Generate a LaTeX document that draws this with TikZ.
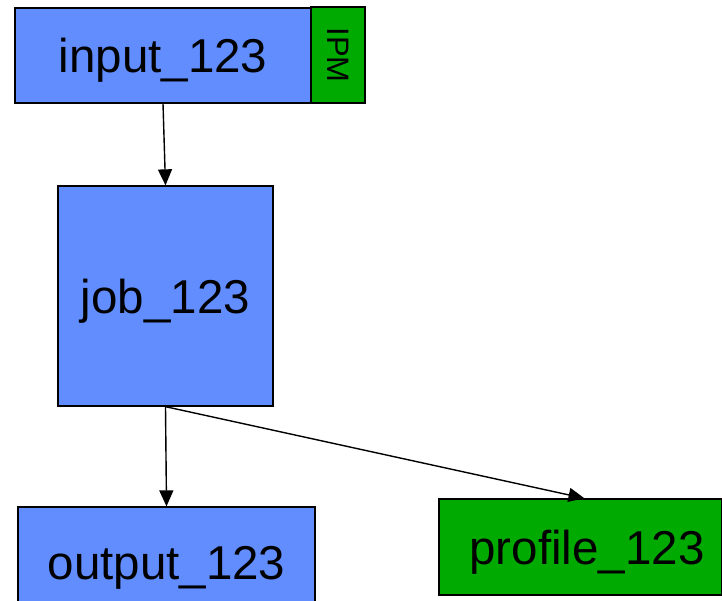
\documentclass[tikz,border=0pt]{standalone}
\usepackage{fontspec}
\setmainfont{Liberation Sans}
\usetikzlibrary{arrows.meta}
\definecolor{boxblue}{RGB}{97,141,255}
\definecolor{boxgreen}{RGB}{0,170,0}
\begin{document}
\begin{tikzpicture}[x=1pt,y=-1pt,
  box/.style={draw=black,line width=1.3pt,rectangle,inner sep=0pt},
  bigtext/.style={font=\fontsize{47.5}{50}\selectfont,text height=44.7pt,text depth=10pt},
  bluebox/.style={box,bigtext,fill=boxblue},
  greenbox/.style={box,fill=boxgreen},
  conn/.style={draw=black,line width=1.4pt,-{Triangle[length=16pt,width=14pt]}}]
\useasboundingbox (0,0) rectangle (722,600);
\clip (0,0) rectangle (722,600);
\node[bluebox,minimum width=296pt,minimum height=95pt] (input) at (163,55.5) {input\_123};
\node[greenbox,minimum width=54pt,minimum height=96pt,font=\fontsize{31}{33}\selectfont] (ipm) at (338,55) {\rotatebox{-90}{IPM}};
\node[bluebox,minimum width=215pt,minimum height=220pt] (job) at (165.5,296) {job\_123};
\node[bluebox,minimum width=297pt,minimum height=110pt] (output) at (166.5,562) {output\_123};
\node[greenbox,bigtext,minimum width=283pt,minimum height=96pt] (profile) at (580.5,547) {\hspace*{13pt}profile\_123};
\draw[conn] (input.south) -- (job.north);
\draw[conn] (job.south) -- (output.north);
\draw[conn] (job.south) -- ([xshift=4pt]profile.north);
\end{tikzpicture}
\end{document}
